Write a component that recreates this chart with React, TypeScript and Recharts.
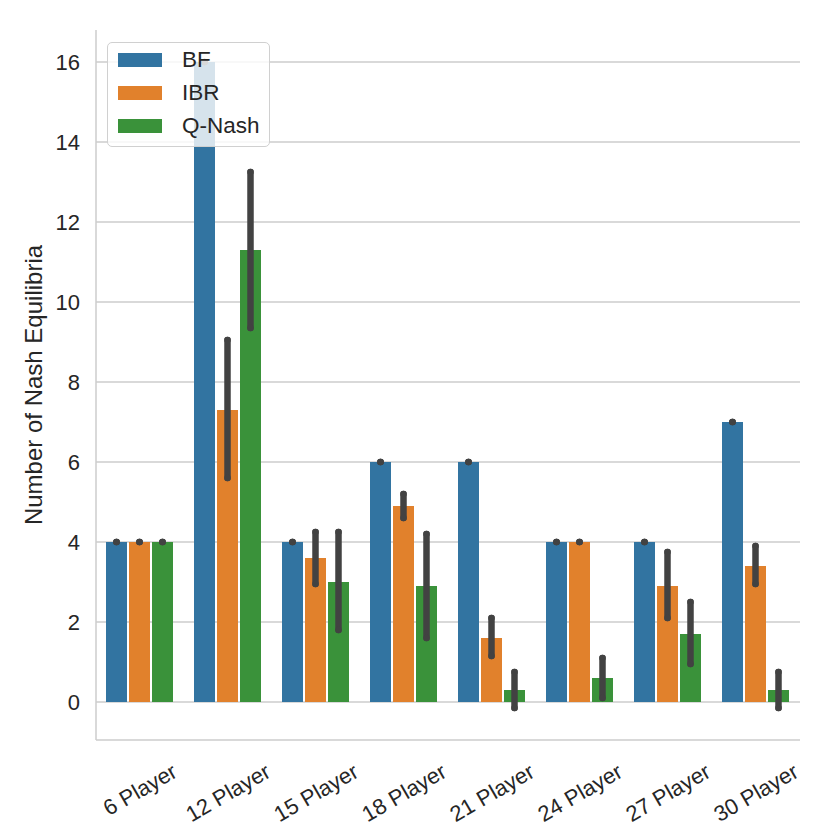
import React from 'react';
import { BarChart, Bar, XAxis, YAxis, CartesianGrid, ErrorBar, Legend, Label } from 'recharts';

const categories = ['6 Player', '12 Player', '15 Player', '18 Player', '21 Player', '24 Player', '27 Player', '30 Player'];

const bfMean = [4, 16, 4, 6, 6, 4, 4, 7];
const bfLow = [4, 16, 4, 6, 6, 4, 4, 7];
const bfHigh = [4, 16, 4, 6, 6, 4, 4, 7];

const ibrMean = [4, 7.3, 3.6, 4.9, 1.6, 4, 2.9, 3.4];
const ibrLow = [4, 5.6, 2.95, 4.6, 1.15, 4, 2.1, 2.95];
const ibrHigh = [4, 9.05, 4.25, 5.2, 2.1, 4, 3.75, 3.9];

const qnMean = [4, 11.3, 3.0, 2.9, 0.3, 0.6, 1.7, 0.3];
const qnLow = [4, 9.35, 1.8, 1.6, -0.15, 0.1, 0.95, -0.15];
const qnHigh = [4, 13.25, 4.25, 4.2, 0.75, 1.1, 2.5, 0.75];

const yTicks = [0, 2, 4, 6, 8, 10, 12, 14, 16];

const data = categories.map((c, i) => ({
  name: c,
  BF: bfMean[i],
  bfErr: [bfMean[i] - bfLow[i], bfHigh[i] - bfMean[i]],
  IBR: ibrMean[i],
  ibrErr: [ibrMean[i] - ibrLow[i], ibrHigh[i] - ibrMean[i]],
  'Q-Nash': qnMean[i],
  qnErr: [qnMean[i] - qnLow[i], qnHigh[i] - qnMean[i]],
}));

const FONT = '"Liberation Sans", Arial, sans-serif';
const TEXT = '#262626';
const GRID = '#cccccc';
const ERR = '#424242';

const charW: Record<string, number> = {
  ' ': 0.278, P: 0.667, l: 0.222, a: 0.556, y: 0.5, e: 0.556, r: 0.333,
};
const textWidth = (s: string, fs: number) =>
  s.split('').reduce((acc, ch) => acc + (charW[ch] ?? 0.556), 0) * fs;

const XTick = (props: any) => {
  const { x, y, payload } = props;
  const fs = 22;
  const w = textWidth(String(payload.value), fs);
  const cy = y + 21 + (w * 0.5 + 17) / 2;
  return (
    <text
      transform={`translate(${x},${cy}) rotate(-30)`}
      textAnchor="middle"
      dominantBaseline="central"
      fontSize={fs}
      fontFamily={FONT}
      fill={TEXT}
    >
      {payload.value}
    </text>
  );
};

const YTitle = (props: any) => {
  const vb = props.viewBox || {};
  const cx = (vb.x ?? 0) + 33;
  const cy = (vb.y ?? 0) + (vb.height ?? 0) / 2;
  return (
    <text
      transform={`translate(${cx},${cy}) rotate(-90)`}
      textAnchor="middle"
      dominantBaseline="central"
      fontSize={24}
      fontFamily={FONT}
      fill={TEXT}
    >
      Number of Nash Equilibria
    </text>
  );
};

const LegendBox = (props: any) => {
  const payload = props.payload || [];
  return (
    <div
      style={{
        width: 163,
        height: 105,
        boxSizing: 'border-box',
        border: '1.5px solid #d0d0d0',
        borderRadius: 5,
        background: 'rgba(255,255,255,0.8)',
        paddingTop: 0,
        fontFamily: FONT,
      }}
    >
      {payload.map((p: any) => (
        <div key={p.value} style={{ display: 'flex', alignItems: 'center', height: 33 }}>
          <div style={{ width: 44, height: 14, marginLeft: 10, background: p.color }} />
          <span style={{ marginLeft: 20, fontSize: 22.5, color: TEXT, lineHeight: '22px' }}>{p.value}</span>
        </div>
      ))}
    </div>
  );
};

const applyScale = (scale: any, v: number): number | null => {
  if (!scale) return null;
  if (typeof scale === 'function') return scale(v);
  if (typeof scale.map === 'function') return scale.map(v);
  if (typeof scale.scale === 'function') return scale.scale(v);
  return null;
};

const gridRows = (args: any) => {
  const scale = args?.yAxis?.scale;
  const pts = yTicks.map((t) => applyScale(scale, t));
  if (pts.some((p) => p == null || Number.isNaN(p))) {
    const top = args?.offset?.top ?? 0;
    const h = args?.offset?.height ?? 0;
    const dom = [-0.95, 16.8];
    return yTicks.map((t) => top + h - ((t - dom[0]) / (dom[1] - dom[0])) * h);
  }
  return pts as number[];
};

export default function App() {
  return (
    <div style={{ position: 'absolute', left: 0, top: 0, width: 830, height: 830, background: '#fff' }}>
      <style>{`.recharts-errorBar line { stroke-linecap: round; }`}</style>
      <BarChart
        width={830}
        height={830}
        data={data}
        margin={{ top: 30, right: 30, left: 0, bottom: 0 }}
        barCategoryGap={10}
        barGap={2}
      >
        <CartesianGrid
          vertical={false}
          stroke={GRID}
          strokeWidth={1.5}
          horizontalCoordinatesGenerator={gridRows}
        />
        <XAxis
          dataKey="name"
          height={90}
          tickLine={false}
          tickSize={0}
          tickMargin={0}
          axisLine={{ stroke: GRID, strokeWidth: 1.5 }}
          tick={<XTick />}
          interval={0}
        />
        <YAxis
          type="number"
          domain={[-0.95, 16.8]}
          ticks={yTicks}
          width={96}
          tickLine={false}
          tickSize={0}
          tickMargin={16}
          axisLine={{ stroke: GRID, strokeWidth: 1.5 }}
          tick={{ fill: TEXT, fontSize: 22, fontFamily: FONT }}
          allowDataOverflow
        >
          <Label content={<YTitle />} />
        </YAxis>
        <Legend
          layout="vertical"
          align="center"
          verticalAlign="middle"
          content={<LegendBox />}
          wrapperStyle={{ left: 107, top: 42, width: 163, height: 105 }}
        />
        <Bar dataKey="BF" fill="#3274a1" isAnimationActive={false}>
          <ErrorBar dataKey={(d: any) => d.bfErr} width={0} stroke={ERR} strokeWidth={6.5} strokeLinecap="round" isAnimationActive={false} />
        </Bar>
        <Bar dataKey="IBR" fill="#e1812c" isAnimationActive={false}>
          <ErrorBar dataKey={(d: any) => d.ibrErr} width={0} stroke={ERR} strokeWidth={6.5} strokeLinecap="round" isAnimationActive={false} />
        </Bar>
        <Bar dataKey="Q-Nash" fill="#3a923a" isAnimationActive={false}>
          <ErrorBar dataKey={(d: any) => d.qnErr} width={0} stroke={ERR} strokeWidth={6.5} strokeLinecap="round" isAnimationActive={false} />
        </Bar>
      </BarChart>
    </div>
  );
}
